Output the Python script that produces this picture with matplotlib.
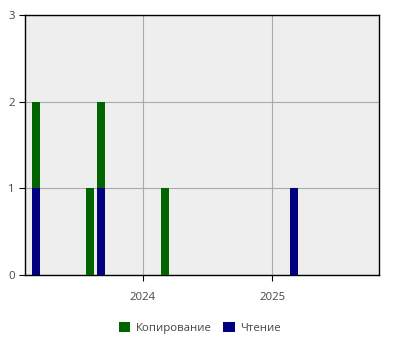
import matplotlib
matplotlib.use("Agg")
import matplotlib.pyplot as plt
import matplotlib.dates as mdates
import numpy as np
import datetime as dt

plt.rcParams['font.family'] = ['Open Sans', 'DejaVu Sans']

dates = ["2023-03-01", "2023-08-01", "2023-09-01", "2024-03-01", "2025-03-01"]
reading = [1, 0, 1, 0, 1]      # Чтение
copying = [1, 1, 1, 1, 0]      # Копирование
series_names = ["Копирование", "Чтение"]
colors = ["#006400", "#000080"]

x = [dt.datetime.strptime(d, "%Y-%m-%d") + dt.timedelta(days=3) for d in dates]
reading = np.array(reading)
copying = np.array(copying)

fig = plt.figure(figsize=(4, 3.5), dpi=100)
ax = fig.add_axes([0.0625, 0.2143, 0.885, 0.7427])
ax.set_facecolor("#eeeeee")

width = 22
ax.bar(x, reading, width=width, color=colors[1], label=series_names[1], zorder=3)
ax.bar(x, copying, width=width, bottom=reading, color=colors[0], label=series_names[0], zorder=3)

ax.set_xlim(dt.datetime(2023, 2, 1), dt.datetime(2025, 10, 31))
ax.set_ylim(0, 3)
ax.set_yticks([0, 1, 2, 3])
ax.xaxis.set_major_locator(mdates.YearLocator())
ax.xaxis.set_major_formatter(mdates.DateFormatter("%Y"))
ax.grid(True, color="#aaaaaa", linewidth=0.8, zorder=0)
ax.set_axisbelow(True)
for s in ax.spines.values():
    s.set_color("black")
    s.set_linewidth(1)
ax.tick_params(axis="both", labelsize=8.2, labelcolor="#444444", length=4, color="black")
ax.tick_params(axis="x", pad=8)

handles, labels = ax.get_legend_handles_labels()
order = [1, 0]
fig.legend([handles[i] for i in order], [labels[i] for i in order],
           loc="center", bbox_to_anchor=(0.5, 0.064), ncol=2, frameon=False,
           fontsize=8.2, handlelength=1.0, handleheight=1.0, columnspacing=1.0,
           handletextpad=0.5, labelcolor="#444444")

fig.savefig("out.png", dpi=100)
